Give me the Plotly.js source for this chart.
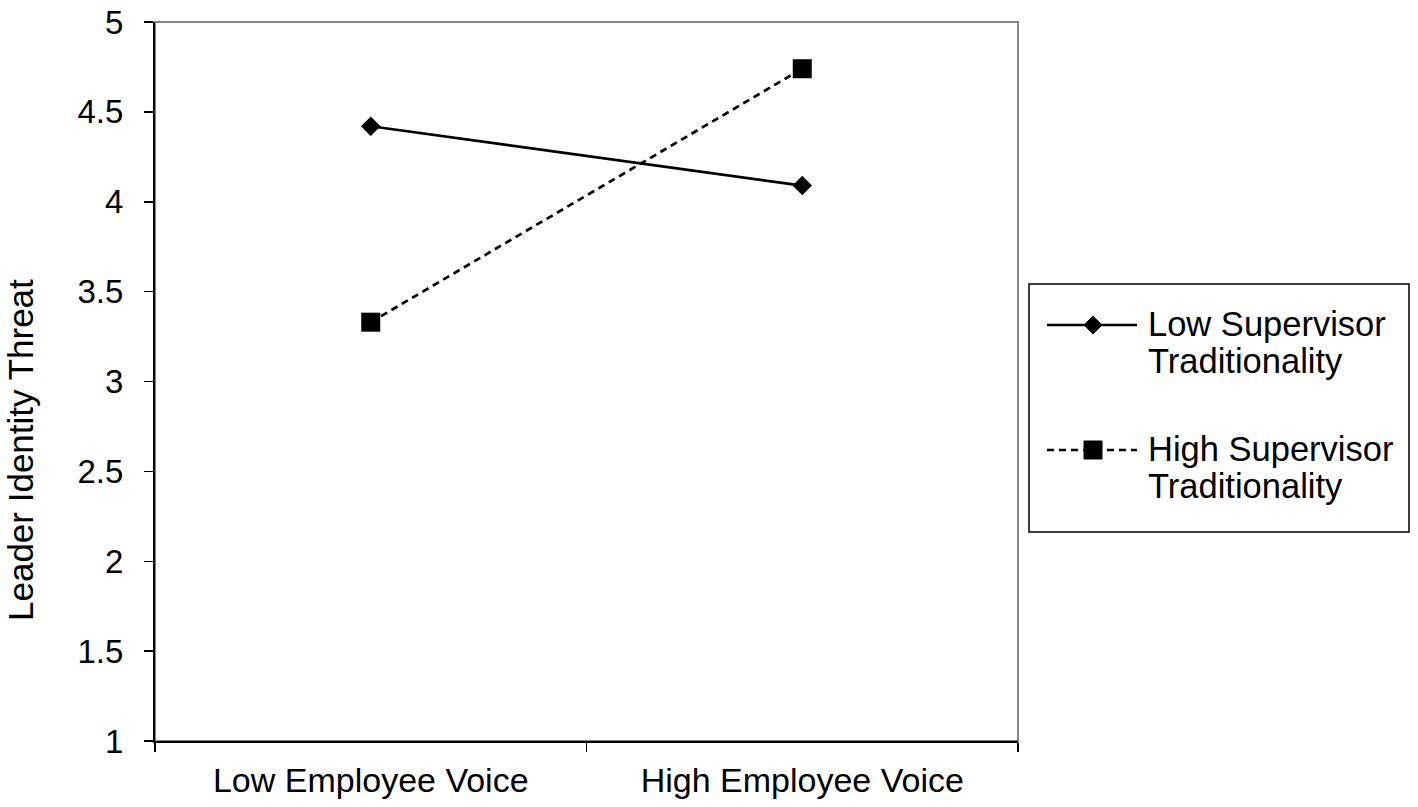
<!DOCTYPE html>
<html><head><meta charset="utf-8">
<script src="https://cdn.plot.ly/plotly-3.0.1.min.js"></script>
<style>html,body{margin:0;padding:0;background:#fff}#chart{width:1418px;height:807px}</style>
</head><body><div id="chart"></div>
<script>
const categories = ["Low Employee Voice", "High Employee Voice"];
const seriesNames = ["Low Supervisor<br>Traditionality", "High Supervisor<br>Traditionality"];
const lowTraditionality = [4.42, 4.09];
const highTraditionality = [3.33, 4.74];
const yTickVals = [1, 1.5, 2, 2.5, 3, 3.5, 4, 4.5, 5];
const yTitle = "Leader Identity Threat";

const FAM = "Liberation Sans, Arial, sans-serif";
const W = 1418, H = 807;
const M = {l: 155, r: 400, t: 22, b: 66};
const PW = W - M.l - M.r, PH = H - M.t - M.b;
// pixel -> paper helpers for layout decorations
const px = v => (v - M.l) / PW;
const py = v => (H - M.b - v) / PH;

const dashPattern = "7px,5px";

const traces = [
  {x: categories, y: lowTraditionality, name: seriesNames[0], type: "scatter", mode: "lines+markers",
   line: {color: "#000", width: 2.7, dash: "solid"}, marker: {symbol: "diamond", size: 15, color: "#000"}},
  {x: categories, y: highTraditionality, name: seriesNames[1], type: "scatter", mode: "lines+markers",
   line: {color: "#000", width: 2.7, dash: dashPattern}, marker: {symbol: "square", size: 19, color: "#000"}}
];

// manual legend (box, sample lines, marker glyphs, labels)
const legendBox = {x0: 1029, x1: 1409, y0: 284, y1: 532};
const legendItems = [
  {lineY: 325, dash: "solid", symbol: "diamond"},
  {lineY: 450, dash: dashPattern, symbol: "square"}
];
const symX0 = 1047, symX1 = 1137, symXC = 1093, textX = 1146, lineGap = 37;

const shapes = [
  {type: "rect", xref: "paper", yref: "paper", x0: 0, x1: 1, y0: 0, y1: 1,
   line: {color: "#858585", width: 2}, layer: "below"},
  {type: "rect", xref: "paper", yref: "paper", x0: px(legendBox.x0), x1: px(legendBox.x1),
   y0: py(legendBox.y1), y1: py(legendBox.y0), line: {color: "#000", width: 1.5}, fillcolor: "#fff"}
];
const annotations = [
  {xref: "paper", yref: "paper", x: px(21), y: py(450), xanchor: "center", yanchor: "middle",
   text: yTitle, textangle: -90, showarrow: false, font: {family: FAM, size: 35, color: "#000"}}
];
legendItems.forEach((it, i) => {
  shapes.push({type: "line", xref: "paper", yref: "paper", x0: px(symX0), x1: px(symX1),
               y0: py(it.lineY), y1: py(it.lineY), line: {color: "#000", width: 2.7, dash: it.dash}});
  const r = 9;
  if (it.symbol === "diamond") {
    shapes.push({type: "path", xref: "paper", yref: "paper", fillcolor: "#000", line: {color: "#000", width: 1},
      path: `M${px(symXC)},${py(it.lineY - r)} L${px(symXC + r)},${py(it.lineY)} L${px(symXC)},${py(it.lineY + r)} L${px(symXC - r)},${py(it.lineY)} Z`});
  } else {
    shapes.push({type: "rect", xref: "paper", yref: "paper", fillcolor: "#000", line: {color: "#000", width: 1},
      x0: px(symXC - r), x1: px(symXC + r), y0: py(it.lineY + r), y1: py(it.lineY - r)});
  }
  seriesNames[i].split("<br>").forEach((part, k) => {
    annotations.push({xref: "paper", yref: "paper", x: px(textX), y: py(it.lineY - 1 + k * lineGap),
      xanchor: "left", yanchor: "middle", align: "left", text: part, showarrow: false,
      font: {family: FAM, size: 34.5, color: "#000"}});
  });
});

const layout = {
  width: W, height: H,
  margin: M,
  paper_bgcolor: "#fff", plot_bgcolor: "#fff",
  font: {family: FAM, size: 33, color: "#000"},
  showlegend: false,
  xaxis: {type: "category", range: [-0.5, 1.5], showgrid: false, zeroline: false,
          showline: true, linecolor: "#000", linewidth: 2, ticks: "outside", tickson: "boundaries",
          ticklen: 9, tickwidth: 1.5, tickcolor: "#000", ticklabelstandoff: 8,
          tickfont: {family: FAM, size: 34, color: "#000"}},
  yaxis: {range: [1, 5], tickvals: yTickVals, showgrid: false, zeroline: false,
          showline: true, linecolor: "#000", linewidth: 2, ticks: "outside", ticklen: 9, tickwidth: 1.5,
          tickcolor: "#000", tickfont: {family: FAM, size: 33, color: "#000"}, ticklabelstandoff: 14},
  shapes: shapes,
  annotations: annotations
};

Plotly.newPlot("chart", traces, layout, {displayModeBar: false, staticPlot: true});
</script></body></html>
